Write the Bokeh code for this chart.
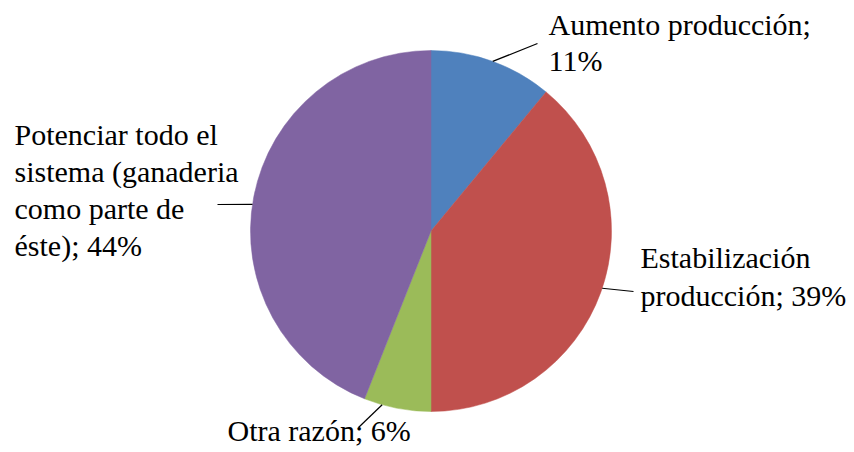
import math
from bokeh.plotting import figure
from bokeh.models import Range1d, ColumnDataSource
from bokeh.core.properties import value
from bokeh.embed import file_html
from bokeh.resources import INLINE

# ---- data ----
categories = ["Aumento producción", "Estabilización producción", "Otra razón",
              "Potenciar todo el sistema (ganaderia como parte de éste)"]
percents = [11, 39, 6, 44]
labels = ["Aumento producción;\n11%",
          "Estabilización\nproducción; 39%",
          "Otra razón; 6%",
          "Potenciar todo el\nsistema (ganaderia\ncomo parte de\néste); 44%"]
colors = ["#4F81BD", "#C0504D", "#9BBB59", "#8064A2"]

# ---- layout (screen px) ----
W, H = 854, 452
cx_s, cy_s, R = 430.5, 230.5, 180.5
label_pos = [(548, 24), (640, 257), (227, 430), (14, 134)]   # anchor of first line
line_gap = [36, 38, 36, 37]
leader_angle = [70.0, -18.5, -105.7, 171.5]   # degrees, where leader touches pie
leader_end = [(537, 43), (633, 291), (358, 427), (217, 204)]

def X(xs):
    return xs

def Y(ys):
    return H - ys

p = figure(width=W, height=H, output_backend="svg", toolbar_location=None,
           x_range=Range1d(0, W), y_range=Range1d(0, H), min_border=0)
p.axis.visible = False
p.grid.visible = False
p.outline_line_color = None
p.background_fill_color = "white"
p.border_fill_color = "white"

total = sum(percents)
starts, ends = [], []
cum = 0.0
for v in percents:
    a0 = math.pi / 2 - 2 * math.pi * cum / total
    cum += v
    a1 = math.pi / 2 - 2 * math.pi * cum / total
    starts.append(a0)
    ends.append(a1)

src = ColumnDataSource(dict(start=starts, end=ends, color=colors, cat=categories))
p.wedge(x=X(cx_s), y=Y(cy_s), radius=R, start_angle="start", end_angle="end",
        direction="clock", fill_color="color", line_color="color", line_width=0.5,
        source=src)

# leader lines
for ang, (ex, ey) in zip(leader_angle, leader_end):
    a = math.radians(ang)
    sx = cx_s + R * math.cos(a)
    sy = cy_s - R * math.sin(a)
    p.line(x=[X(sx), X(ex)], y=[Y(sy), Y(ey)], line_color="black", line_width=1.2)

# labels
tx, ty, tt = [], [], []
for lab, (lx, ly), g in zip(labels, label_pos, line_gap):
    for i, line in enumerate(lab.split("\n")):
        tx.append(X(lx))
        ty.append(Y(ly + i * g))
        tt.append(line)
p.text(x=tx, y=ty, text=tt, text_font=value("Liberation Serif"),
       text_font_size="30px", text_color="#000000",
       text_baseline="alphabetic", text_align="left")

open("out.html", "w").write(file_html(p, INLINE))
